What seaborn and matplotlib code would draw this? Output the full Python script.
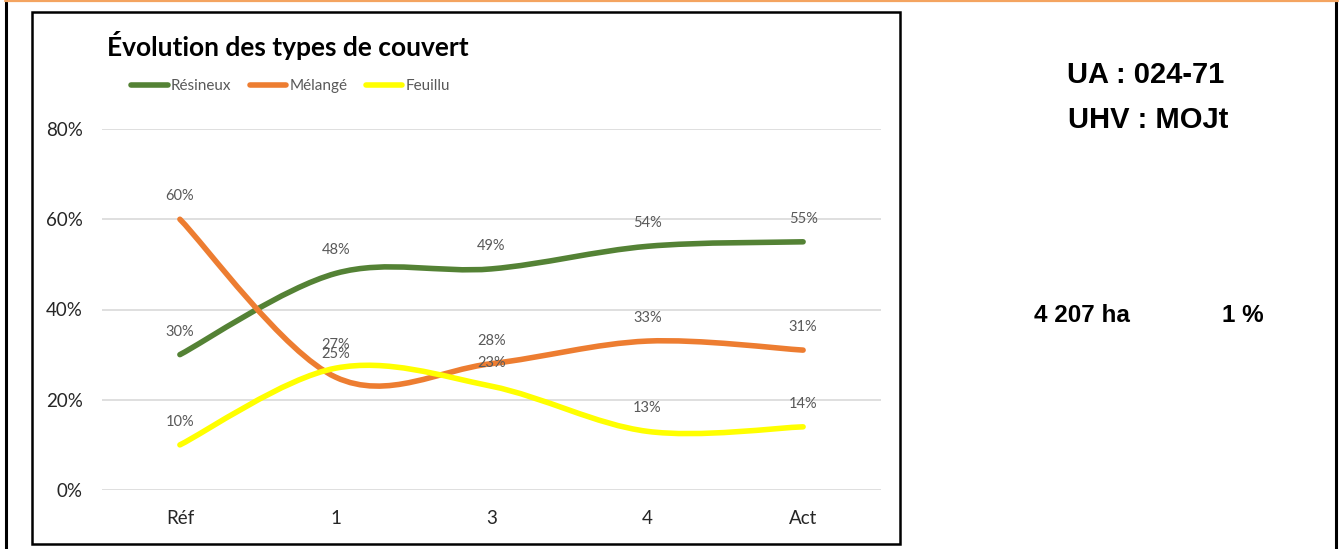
import matplotlib
import numpy as np
import pandas as pd
import seaborn as sns

matplotlib.use("Agg")

import matplotlib.pyplot as plt
from matplotlib.lines import Line2D
from matplotlib.patches import PathPatch, Rectangle
from matplotlib.path import Path

# Données
periodes = ["Réf", "1", "3", "4", "Act"]
resineux = [30, 48, 49, 54, 55]
melange = [60, 25, 28, 33, 31]
feuillu = [10, 27, 23, 13, 14]

series_noms = ["Résineux", "Mélangé", "Feuillu"]
couleurs = {"Résineux": "#548235", "Mélangé": "#ED7D31", "Feuillu": "#FFFF00"}

y_ticks = [0, 20, 40, 60, 80]

ua_label = "UA : 024-71"
uhv_label = "UHV : MOJt"
superficie_label = "4 207 ha"
proportion_label = "1 %"

W, H = 1341, 549


def fx(px):
    return px / W


def fy(py):
    return 1 - py / H


def smooth_path(xs, ys):
    # courbe lissée type Excel (Bezier façon Catmull-Rom)
    pts = np.column_stack([xs, ys]).astype(float)
    n = len(pts)
    verts = [pts[0]]
    codes = [Path.MOVETO]
    for i in range(n - 1):
        p_prev = pts[i - 1] if i > 0 else pts[i]
        p_next2 = pts[i + 2] if i + 2 < n else pts[i + 1]
        c1 = pts[i] + (pts[i + 1] - p_prev) / 6
        c2 = pts[i + 1] - (p_next2 - pts[i]) / 6
        verts += [c1, c2, pts[i + 1]]
        codes += [Path.CURVE4] * 3
    return Path(verts, codes)


def main() -> None:
    sns.set_style("white")
    plt.rcParams["font.family"] = ["Lato", "DejaVu Sans"]

    data = pd.DataFrame(
        {
            "pos": list(range(len(periodes))) * 3,
            "valeur": resineux + melange + feuillu,
            "type": [n for n in series_noms for _ in periodes],
        }
    )

    fig = plt.figure(figsize=(W / 100, H / 100), dpi=100)
    ax = fig.add_axes([fx(102), fy(490), fx(881) - fx(102), fy(129) - fy(490)])

    sns.lineplot(
        data=data, x="pos", y="valeur", hue="type", palette=couleurs,
        hue_order=series_noms, linewidth=0, ax=ax, legend=True,
    )

    for nom in series_noms:
        sub = data[data["type"] == nom]
        ax.add_patch(
            PathPatch(
                smooth_path(sub["pos"], sub["valeur"]), fill=False,
                edgecolor=couleurs[nom], lw=4, capstyle="round", zorder=3,
            )
        )
        for x, v in zip(sub["pos"], sub["valeur"]):
            ax.annotate(
                f"{v}%", (x, v), xytext=(0, 16.5), textcoords="offset points",
                ha="center", va="center", fontsize=10.5, color="#595959", zorder=4,
            )

    ax.set_xlim(-0.5, len(periodes) - 0.5)
    ax.set_ylim(0, 80)
    ax.set_xticks(range(len(periodes)))
    ax.set_xticklabels(periodes)
    ax.set_yticks(y_ticks)
    ax.set_yticklabels([f"{t}%" for t in y_ticks])
    ax.tick_params(axis="both", length=0, labelsize=13.5, colors="#262626")
    ax.tick_params(axis="y", pad=14)
    ax.tick_params(axis="x", pad=14.5)
    ax.set_xlabel("")
    ax.set_ylabel("")
    ax.grid(axis="y", color="#D9D9D9", lw=1.2)
    ax.set_axisbelow(True)
    for s in ax.spines.values():
        s.set_visible(False)

    handles, labels = ax.get_legend_handles_labels()
    handles = [Line2D([], [], color=couleurs[l], lw=4, solid_capstyle="round") for l in labels]
    ax.get_legend().remove()
    fig.legend(
        handles, labels, loc="center left", bbox_to_anchor=(fx(131), fy(86)),
        ncol=3, frameon=False, fontsize=11, handlelength=2.4, handletextpad=0.2,
        columnspacing=1.2, labelcolor="#595959", borderaxespad=0, borderpad=0,
    )

    fig.text(fx(107), fy(46), "Évolution des types de couvert", fontsize=19,
             fontweight="bold", color="black", va="center", ha="left")

    # Cadres
    fig.add_artist(Rectangle((fx(32), fy(544)), fx(900) - fx(32), fy(12) - fy(544),
                             transform=fig.transFigure, fill=False, edgecolor="black", lw=1.8))
    fig.add_artist(Line2D([fx(6), fx(6)], [fy(2), 0], transform=fig.transFigure, color="black", lw=2.2))
    fig.add_artist(Line2D([fx(1335.5), fx(1335.5)], [fy(2), 0], transform=fig.transFigure, color="black", lw=2.2))
    fig.add_artist(Line2D([fx(5), fx(1338)], [fy(1), fy(1)], transform=fig.transFigure, color="#F4A460", lw=1.6))

    bold = dict(family=["Liberation Sans", "DejaVu Sans"], fontweight="bold", color="black", va="center", ha="center")
    fig.text(fx(1146), fy(75), ua_label, fontsize=21, **bold)
    fig.text(fx(1148), fy(120), uhv_label, fontsize=21, **bold)
    fig.text(fx(1082), fy(316), superficie_label, fontsize=17.5, **bold)
    fig.text(fx(1243), fy(316), proportion_label, fontsize=17.5, **bold)

    fig.savefig("out.png", dpi=100)
    plt.close(fig)


if __name__ == "__main__":
    main()
